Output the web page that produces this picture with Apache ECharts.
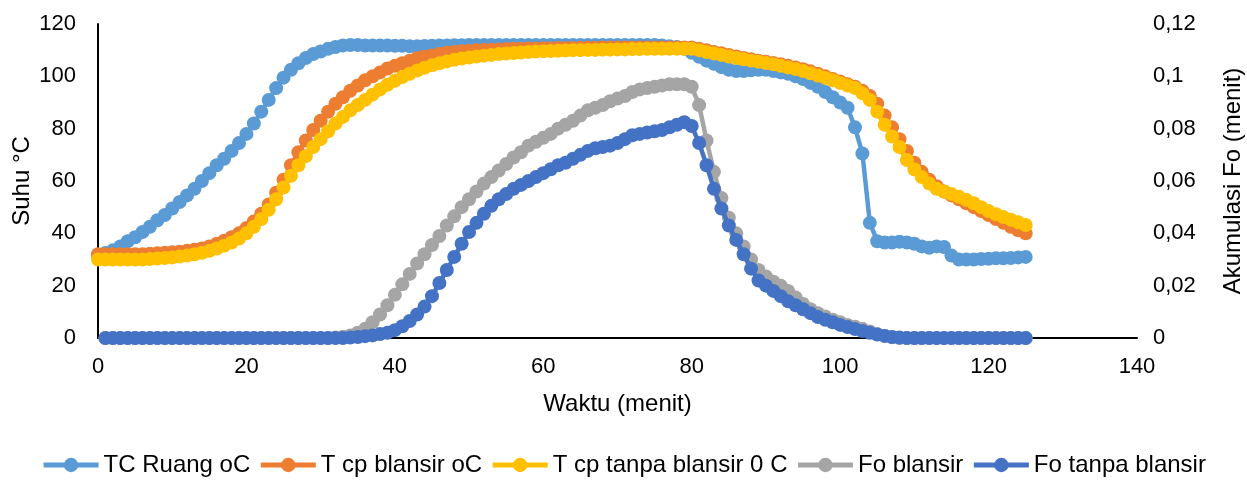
<!DOCTYPE html>
<html>
<head>
<meta charset="utf-8">
<script src="https://cdn.jsdelivr.net/npm/echarts@6/dist/echarts.min.js"></script>
<style>
html,body{margin:0;padding:0;background:#fff;}
#chart{width:1247px;height:482px;}
</style>
</head>
<body>
<div id="chart"></div>
<script>
const waktu = [0,1,2,3,4,5,6,7,8,9,10,11,12,13,14,15,16,17,18,19,20,21,22,23,24,25,26,27,28,29,30,31,32,33,34,35,36,37,38,39,40,41,42,43,44,45,46,47,48,49,50,51,52,53,54,55,56,57,58,59,60,61,62,63,64,65,66,67,68,69,70,71,72,73,74,75,76,77,78,79,80,81,82,83,84,85,86,87,88,89,90,91,92,93,94,95,96,97,98,99,100,101,102,103,104,105,106,107,108,109,110,111,112,113,114,115,116,117,118,119,120,121,122,123,124,125];

const tcRuang = [31.5,32.5,33.5,35,37,38.5,40.5,42.5,45,47,49.5,52,54.5,57,60,63,66,68.5,71.5,74.5,78,82,86.5,91,95.5,99.5,102.5,105,107,108.5,109.5,110.5,111.2,111.8,112,112,111.8,111.8,111.8,111.8,111.7,111.7,111.5,111.5,111.6,111.7,111.8,111.8,111.9,111.9,112,112,112,112,112,112,112,112,112,112,112,112,112,112,112,112,112,112,112,112,112,112,112,112,112,112,111.8,111.5,111.2,110.5,109,107.5,106,104.8,103.5,102.5,102,102,102.3,102.5,102.5,102,101.5,101,100,99,97.5,96,94,92,90,88,80.5,70.5,44,37,36.5,36.5,36.8,36.5,36,35,34.5,35,34.8,31.5,30,30,30,30.2,30.3,30.5,30.5,30.6,30.8,31];

const tcpBlansir = [32,32,32,32,32,32,32,32.2,32.4,32.6,32.8,33,33.3,33.7,34.2,35,36,37.2,38.5,40,42,44.5,47.5,51,55.5,60.5,66,71,75.5,79.5,83,86.5,89.5,92,94.5,96.5,98.5,100,101.5,103,104,105,106,107,107.5,108,108.5,109,109.3,109.6,109.8,110,110.1,110.2,110.3,110.4,110.5,110.5,110.6,110.6,110.7,110.7,110.8,110.8,110.8,110.9,110.9,110.9,111,111,111,111,111,111,111,111,111,111,111,111,111,110.5,110,109.3,108.8,108.2,107.6,107,106.5,106,105.6,105.1,104.6,104,103.4,102.7,101.9,101,100,99,98,97,96,94.5,92.5,89.5,85,80.5,76,71.5,67,63.5,60.5,58,56,54.5,53,51.5,50,48.5,47,45.5,44,42.5,41.2,40];

const tcpTanpaBlansir = [30,30,30,30,30,30,30,30.2,30.4,30.6,30.8,31.1,31.5,32,32.6,33.3,34.2,35.3,36.5,38,40,42.5,45.5,49,53,57.5,62,66,69.5,73,76,79,82,84.5,87,89,91,93,95,96.8,98.3,99.7,101,102.2,103.3,104.2,105,105.7,106.3,106.8,107.2,107.6,107.9,108.2,108.5,108.7,108.9,109.1,109.3,109.5,109.6,109.7,109.8,109.9,110,110,110.1,110.1,110.2,110.2,110.3,110.3,110.4,110.4,110.5,110.5,110.5,110.5,110.5,110.5,110.5,110,109.3,108.7,108.2,107.6,107,106.5,106,105.6,105.1,104.6,104,103.4,102.8,102,101.2,100.3,99.4,98.5,97.5,96.5,95.5,93.5,91,86.5,81.5,77,73,68,64.5,61.5,59,57,56,55,54,52.8,51.5,50,48.5,47.3,46.2,45.2,44.2,43.2];

const foBlansir = [null,0,0,0,0,0,0,0,0,0,0,0,0,0,0,0,0,0,0,0,0,0,0,0,0,0,0,0,0,0,0,0,0.0002,0.0005,0.001,0.002,0.0035,0.006,0.009,0.0125,0.0165,0.0205,0.0245,0.0285,0.032,0.0355,0.039,0.043,0.0465,0.05,0.053,0.056,0.059,0.0615,0.064,0.0665,0.069,0.071,0.0735,0.075,0.0765,0.078,0.08,0.0815,0.083,0.085,0.087,0.088,0.089,0.0905,0.0915,0.0925,0.094,0.095,0.0955,0.096,0.0965,0.097,0.097,0.097,0.096,0.089,0.0755,0.0635,0.0535,0.046,0.04,0.035,0.03,0.026,0.0235,0.0215,0.02,0.018,0.0155,0.013,0.011,0.0095,0.0082,0.007,0.006,0.005,0.0043,0.0035,0.0025,0.0015,0.0008,0.0003,0,0,0,0,0,0,0,0,0,0,0,0,0,0,0,0,0,0];

const foTanpaBlansir = [null,0,0,0,0,0,0,0,0,0,0,0,0,0,0,0,0,0,0,0,0,0,0,0,0,0,0,0,0,0,0,0,0,0,0.0002,0.0004,0.0007,0.001,0.0015,0.002,0.003,0.0045,0.0065,0.009,0.012,0.016,0.021,0.026,0.031,0.036,0.0405,0.044,0.0475,0.0505,0.053,0.055,0.057,0.0585,0.06,0.0615,0.063,0.0645,0.066,0.067,0.0685,0.07,0.0715,0.0725,0.073,0.0735,0.0745,0.076,0.0775,0.078,0.0785,0.079,0.0795,0.0805,0.0815,0.0825,0.081,0.0745,0.066,0.057,0.0495,0.043,0.0375,0.032,0.0265,0.022,0.02,0.018,0.016,0.014,0.0125,0.011,0.0095,0.008,0.007,0.006,0.005,0.0042,0.0034,0.0027,0.002,0.0013,0.0008,0.0004,0.0002,0,0,0,0,0,0,0,0,0,0,0,0,0,0,0,0,0];

const xTicks = [0,20,40,60,80,100,120,140];
const suhuTicks = [0,20,40,60,80,100,120];
const foTicks = [0,0.02,0.04,0.06,0.08,0.1,0.12];

const seriesNames = ['TC Ruang oC','T cp blansir oC','T cp tanpa blansir 0 C','Fo blansir','Fo tanpa blansir'];
const seriesColors = ['#5B9BD5','#ED7D31','#FFC000','#A5A5A5','#4472C4'];
const seriesValues = [tcRuang, tcpBlansir, tcpTanpaBlansir, foBlansir, foTanpaBlansir];
const seriesAxis = [0,0,0,1,1];

const FONT = 'Liberation Sans, Arial, sans-serif';
const FS = 22;
const FT = 24;

const chart = echarts.init(document.getElementById('chart'), null, {renderer:'canvas'});
chart.setOption({
  animation:false,
  backgroundColor:'#fff',
  textStyle:{fontFamily:FONT},
  grid:{left:98, right:110, top:24, bottom:144, containLabel:false, outerBoundsMode:'none'},
  legend:{
    bottom:0, left:'center',
    itemWidth:55, itemHeight:18, itemGap:8,
    lineStyle:{width:5},
    textStyle:{fontSize:FT, color:'#000', fontFamily:FONT},
    data:seriesNames
  },
  xAxis:{
    type:'value', min:xTicks[0], max:xTicks[xTicks.length-1], interval:xTicks[1]-xTicks[0],
    name:'Waktu (menit)', nameLocation:'middle', nameGap:54,
    nameTextStyle:{fontSize:FT, color:'#000', fontFamily:FONT},
    axisLine:{show:true, onZero:false, lineStyle:{color:'#000', width:2}},
    axisTick:{show:false},
    axisLabel:{color:'#000', fontSize:FS, margin:18, fontFamily:FONT},
    splitLine:{show:false}
  },
  yAxis:[{
    type:'value', min:suhuTicks[0], max:suhuTicks[suhuTicks.length-1], interval:suhuTicks[1]-suhuTicks[0],
    name:'Suhu °C', nameLocation:'middle', nameGap:64, nameRotate:90, nameMoveOverlap:false,
    nameTextStyle:{fontSize:FT, color:'#000', fontFamily:FONT},
    axisLine:{show:true, onZero:false, lineStyle:{color:'#000', width:2}},
    axisTick:{show:false},
    axisLabel:{color:'#000', fontSize:FS, margin:22, fontFamily:FONT},
    splitLine:{show:false}
  },{
    type:'value', position:'right', min:foTicks[0], max:foTicks[foTicks.length-1], interval:foTicks[1]-foTicks[0],
    name:'Akumulasi Fo (menit)', nameLocation:'middle', nameGap:84, nameRotate:90,
    nameTextStyle:{fontSize:FT, color:'#000', fontFamily:FONT},
    axisLine:{show:false}, axisTick:{show:false},
    axisLabel:{color:'#000', fontSize:FS, margin:16, fontFamily:FONT,
      formatter:v => String(Math.round(v*100)/100).replace('.', ',')},
    splitLine:{show:false}
  }],
  series: seriesNames.map((name,i)=>({
    name:name, type:'line', yAxisIndex:seriesAxis[i],
    data: waktu.map((t,k)=>[t, seriesValues[i][k]]),
    symbol:'circle', symbolSize:14, showSymbol:true,
    itemStyle:{color:seriesColors[i]},
    lineStyle:{color:seriesColors[i], width:4.5},
    connectNulls:false, z:2+i
  }))
});
</script>
</body>
</html>
